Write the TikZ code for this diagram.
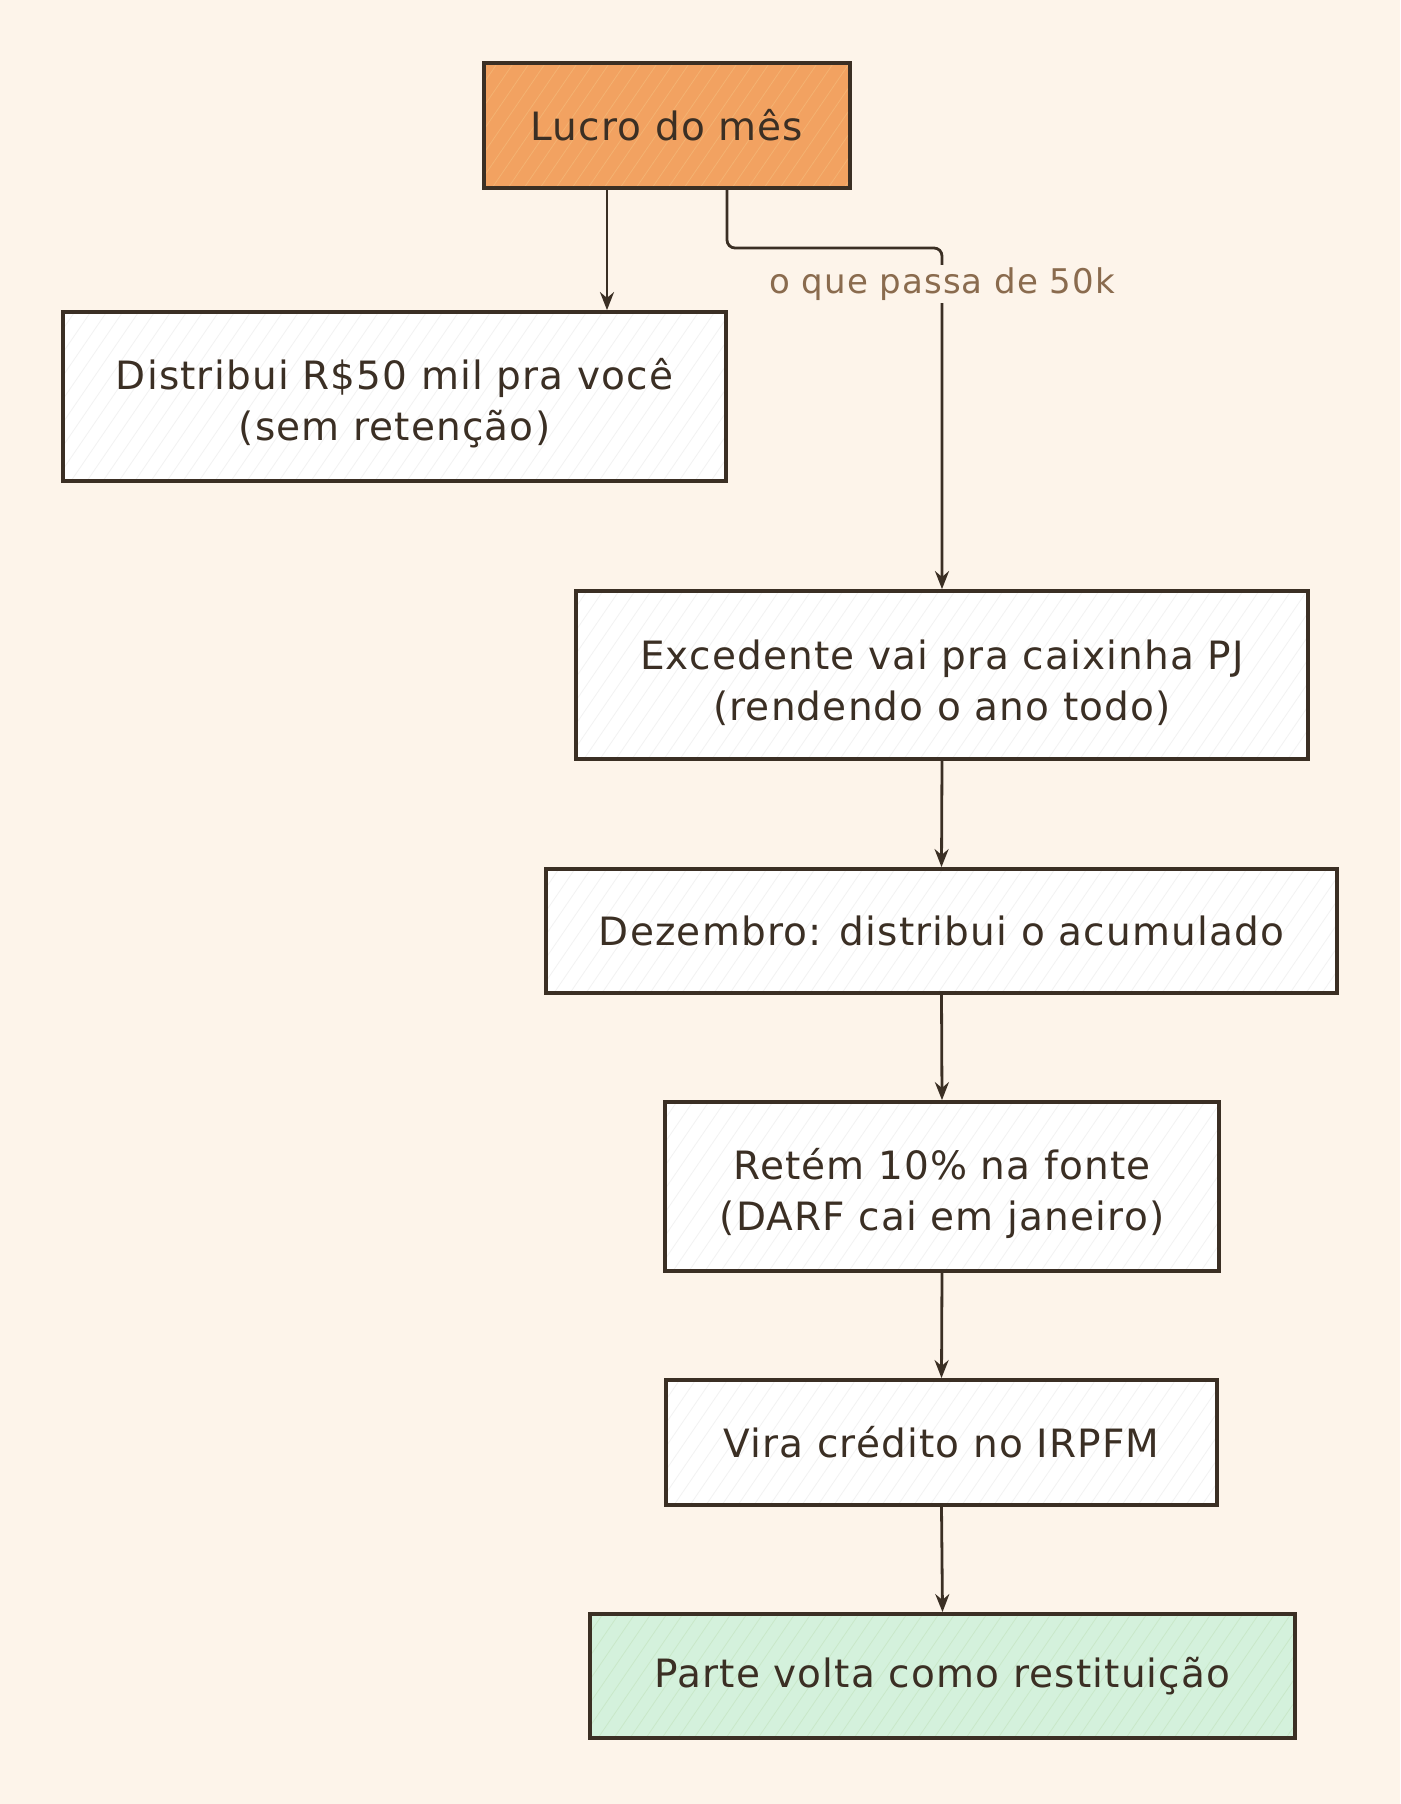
\documentclass[tikz,border=0pt]{standalone}
\usepackage{fontspec}
\setmainfont{DejaVu Sans}[LetterSpace=3.0]
\usetikzlibrary{arrows.meta,calc}
\definecolor{bg}{HTML}{FDF4EA}
\definecolor{ink}{HTML}{3B2F24}
\definecolor{orangefill}{HTML}{F2A261}
\definecolor{greenfill}{HTML}{D4F1DC}
\definecolor{labelcol}{HTML}{8A6B4E}
\newcommand{\lowr}{\rule{0pt}{45pt}}
\tikzset{
  hatch/.style={path picture={
    \foreach \i in {-200,-184,...,820}{
      \draw[#1, line width=0.8pt] ($(path picture bounding box.south west)+(\i,0)$) -- ++(130,-190);
    }}},
  box/.style={draw=ink, line width=3.8pt, fill=white, text=ink, align=center,
    inner sep=0pt, font=\fontsize{39}{51}\selectfont, hatch=black!5},
  conn/.style={draw=ink, line width=2.8pt, -{Stealth[length=18pt,width=14pt]}},
  lbl/.style={fill=bg, text=labelcol, inner sep=3pt, font=\fontsize{34}{36}\selectfont},
}
\begin{document}
\begin{tikzpicture}[x=1pt,y=-1pt]
\fill[bg] (0,0) rectangle (1400,1804);
\useasboundingbox (0,0) rectangle (1400,1804);
\node[box, fill=orangefill, hatch=orange!70!brown!60, minimum width=366pt, minimum height=125pt] (a) at (667,125.5) {Lucro do mês};
\node[box, minimum width=663pt, minimum height=169pt] (b) at (394.5,396.5) {\lowr Distribui R\$50 mil pra você\\(sem retenção)};
\node[box, minimum width=732pt, minimum height=168pt] (c) at (942,675) {\lowr Excedente vai pra caixinha PJ\\(rendendo o ano todo)};
\node[box, minimum width=791pt, minimum height=124pt] (d) at (941.5,931) {Dezembro: distribui o acumulado};
\node[box, minimum width=554pt, minimum height=169pt] (e) at (942,1186.5) {\lowr Retém 10\% na fonte\\(DARF cai em janeiro)};
\node[box, minimum width=551pt, minimum height=125pt] (f) at (941.5,1442.5) {Vira crédito no IRPFM};
\node[box, fill=greenfill, hatch=green!40!gray!30, minimum width=705pt, minimum height=124pt] (g) at (942.5,1676) {Parte volta como restituição};
\coordinate (a1) at (607,188);
\coordinate (a2) at (727,188);
\coordinate (elb) at (942,248);
\draw[conn] (a1) -- (a1 |- b.north);
\draw[conn, rounded corners=8pt] (a2) -- (a2 |- elb) -- (elb) -- (c.north);
\node[lbl] (l) at (942,284) {o que passa de 50k};
\draw[conn] (c.south) -- (d.north);
\draw[conn] (d.south) -- (e.north);
\draw[conn] (e.south) -- (f.north);
\draw[conn] (f.south) -- (g.north);
\end{tikzpicture}
\end{document}
